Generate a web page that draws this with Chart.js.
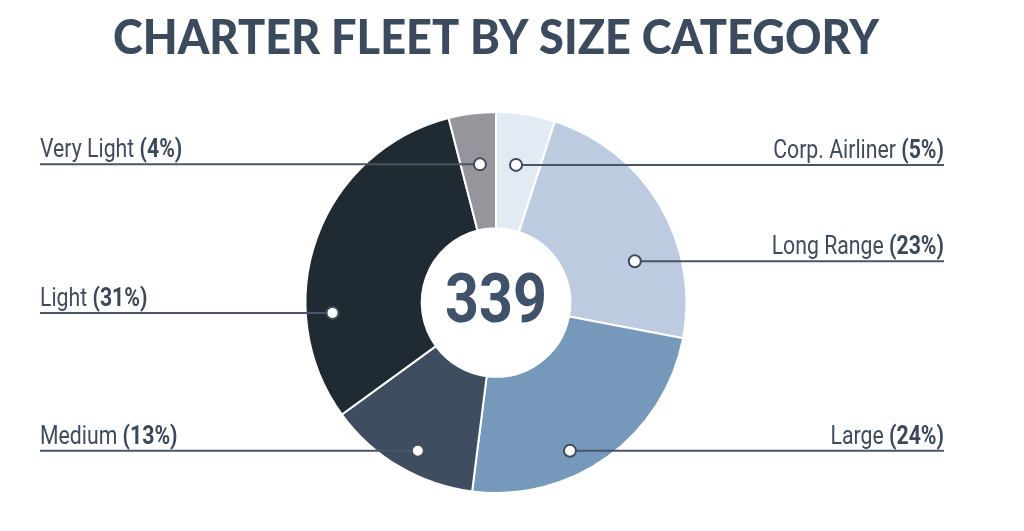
<!DOCTYPE html>
<html>
<head>
<meta charset="utf-8">
<script src="https://cdn.jsdelivr.net/npm/chart.js@4"></script>
<style>
  html, body { margin: 0; padding: 0; background: #fff; }
  #wrap { width: 1024px; height: 531px; position: relative; }
</style>
</head>
<body>
<div id="wrap"><canvas id="chart"></canvas></div>
<script>
const categories = ['Corp. Airliner', 'Long Range', 'Large', 'Medium', 'Light', 'Very Light'];
const shares = [5, 23, 24, 13, 31, 4];
const fleetTotal = 339;
const colors = ['#e2ebf4', '#bccbdf', '#7699bb', '#3e4d5f', '#202a33', '#96959b'];

// where the leader dot sits inside each slice (fraction of slice angle, fraction of radius)
const anchors = [
  {t: 0.46, r: 0.73},
  {t: 0.67, r: 0.76},
  {t: 0.61, r: 0.87},
  {t: 0.44, r: 0.88},
  {t: 0.29, r: 0.86},
  {t: 0.54, r: 0.73},
];

const squeezeText = (ctx, parts, x, y, align, sx) => {
  ctx.save();
  ctx.translate(x, y);
  ctx.scale(sx, 1);
  let total = 0;
  parts.forEach(p => { ctx.font = p.font; total += ctx.measureText(p.text).width; });
  let cx = align === 'right' ? -total : (align === 'center' ? -total / 2 : 0);
  ctx.textAlign = 'left';
  parts.forEach(p => {
    ctx.font = p.font;
    ctx.fillStyle = p.color;
    ctx.fillText(p.text, cx, 0);
    cx += ctx.measureText(p.text).width;
  });
  ctx.restore();
}

const leaderLabels = {
  id: 'leaderLabels',
  afterDatasetsDraw(chart, args, opts) {
    const ctx = chart.ctx;
    const arcs = chart.getDatasetMeta(0).data;
    arcs.forEach((arc, i) => {
      const p = arc.getProps(['x', 'y', 'startAngle', 'endAngle', 'outerRadius']);
      const a = p.startAngle + anchors[i].t * (p.endAngle - p.startAngle);
      const px = p.x + Math.cos(a) * p.outerRadius * anchors[i].r;
      const py = p.y + Math.sin(a) * p.outerRadius * anchors[i].r;
      const left = px < p.x;
      const x0 = left ? opts.left : px;
      const x1 = left ? px : opts.right;

      ctx.save();
      ctx.strokeStyle = '#4a5667';
      ctx.lineWidth = 2;
      ctx.beginPath();
      ctx.moveTo(x0, py);
      ctx.lineTo(x1, py);
      ctx.stroke();

      ctx.beginPath();
      ctx.arc(px, py, 6, 0, Math.PI * 2);
      ctx.fillStyle = '#fff';
      ctx.fill();
      ctx.strokeStyle = '#3e4c5e';
      ctx.stroke();

      ctx.textBaseline = 'alphabetic';
      squeezeText(ctx, [
        {text: categories[i] + ' ', font: '400 25px Roboto', color: '#404c5d'},
        {text: '(' + shares[i] + '%)', font: '700 25px Roboto', color: '#3b485a'},
      ], left ? opts.left : opts.right, py - 7, left ? 'left' : 'right', 0.85);
      ctx.restore();
    });

    const c = arcs[0];
    ctx.save();
    ctx.textBaseline = 'middle';
    squeezeText(ctx, [{text: String(fleetTotal), font: '700 68px Roboto', color: '#3f5269'}],
      c.x, c.y + 2, 'center', 0.87);
    ctx.restore();
  },
  afterDraw(chart, args, opts) {
    // title, slightly condensed like the original poster type
    const ctx = chart.ctx;
    ctx.save();
    ctx.textBaseline = 'alphabetic';
    squeezeText(ctx, [{text: opts.title, font: '900 47px Lato', color: '#3b4a5c'}],
      chart.chartArea.left + (chart.chartArea.right - chart.chartArea.left) / 2, 54, 'center', 0.96);
    ctx.restore();
  }
};

new Chart(document.getElementById('chart'), {
  type: 'doughnut',
  data: {
    labels: categories,
    datasets: [{
      data: shares,
      backgroundColor: colors,
      borderColor: '#ffffff',
      borderWidth: 2,
    }]
  },
  options: {
    responsive: true,
    maintainAspectRatio: false,
    animation: false,
    cutout: '39%',
    layout: {padding: {left: 0, right: 32, top: 111, bottom: 37}},
    events: [],
    plugins: {
      legend: {display: false},
      tooltip: {enabled: false},
      title: {display: false},
      leaderLabels: {left: 40, right: 944, title: 'CHARTER FLEET BY SIZE CATEGORY'},
    }
  },
  plugins: [leaderLabels]
});
</script>
</body>
</html>
